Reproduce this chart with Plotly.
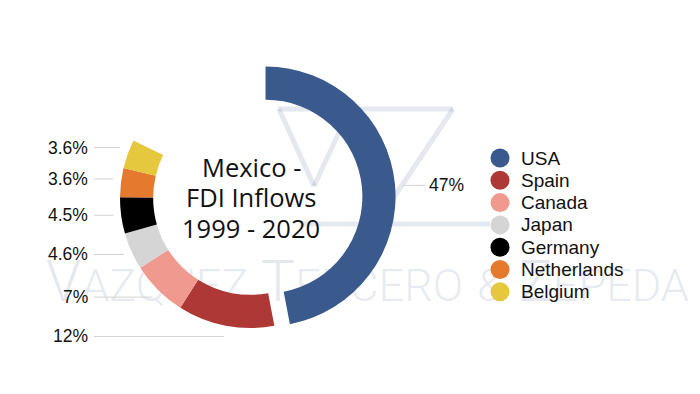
import math
import plotly.graph_objects as go

# ---- data ----
countries = ["USA", "Spain", "Canada", "Japan", "Germany", "Netherlands", "Belgium"]
shares = [47, 12, 7, 4.6, 4.5, 3.6, 3.6]
share_labels = ["47%", "12%", "7%", "4.6%", "4.5%", "3.6%", "3.6%"]
colors = ["#3A5A8E", "#AD3835", "#F0998E", "#D5D5D5", "#000000", "#E5792E", "#E6C83E"]
title_lines = ["Mexico -", "FDI Inflows", "1999 - 2020"]

# ---- layout constants (screen pixels; page body has an 8px margin) ----
W, H = 700, 394
OFF = 8
CX, CY, R = 250, 198, 130
PULL = 0.12
HOLE = 0.745
rest = 100 - sum(shares)
WM = "rgba(70,95,145,0.14)"

half = R * (1 + PULL)
dom_x = [(CX - OFF - half) / W, (CX - OFF + half) / W]
dom_y = [1 - (CY - OFF + half) / H, 1 - (CY - OFF - half) / H]

fig = go.Figure()

# watermark (drawn in cartesian layer, below the pie)
sm = "<span style='font-size:45px'>%s</span>"
wm_text = "V" + sm % "AZQUEZ" + " T" + sm % "ERCERO" + " " + sm % "&amp;" + " Z" + sm % "EPEDA"
fig.add_trace(go.Scatter(x=[46], y=[287], mode="text", text=[wm_text], textposition="middle right",
                         textfont=dict(family="Roboto", size=57, color=WM, weight=300),
                         hoverinfo="skip", showlegend=False))

shapes = []
# logo strokes
for (x0, y0, x1, y1) in [(278, 109, 453, 109), (279, 109, 314, 186), (314, 186, 350, 109),
                         (453, 109, 376, 224), (300, 224, 490, 224)]:
    shapes.append(dict(type="line", xref="x", yref="y", x0=x0, y0=y0, x1=x1, y1=y1,
                       line=dict(color=WM, width=5), layer="below"))

fig.add_trace(go.Pie(
    labels=countries + ["other"],
    values=shares + [rest],
    marker=dict(colors=colors + ["rgba(0,0,0,0)"], line=dict(width=0)),
    pull=[PULL] + [0] * len(shares),
    hole=HOLE, sort=False, direction="clockwise", rotation=0,
    textinfo="none", showlegend=False,
    domain=dict(x=dom_x, y=dom_y),
))

# legend made of circle markers
LEG_X, LEG_Y0, LEG_DY = 500, 158, 22.3
leg_y = [LEG_Y0 + LEG_DY * i for i in range(len(countries))]
fig.add_trace(go.Scatter(x=[LEG_X] * len(countries), y=leg_y, mode="markers",
                         marker=dict(size=19, color=colors), hoverinfo="skip", showlegend=False))

annotations = []
for name, y in zip(countries, leg_y):
    annotations.append(dict(x=LEG_X + 19, y=y, xref="x", yref="y", text=name, showarrow=False,
                            xanchor="left", yanchor="middle",
                            font=dict(family="Liberation Sans, Arial", size=19, color="#111111")))

# percentage labels with leader lines
RLINE = 138
LABEL_FONT = dict(family="Liberation Sans, Arial", size=17.5, color="#111111")
cum = 0
for i, (v, lab) in enumerate(zip(shares, share_labels)):
    mid = 2 * math.pi * (cum + v / 2) / 100
    cum += v
    ox = CX + (PULL * R * math.sin(mid) if i == 0 else 0)
    oy = CY - (PULL * R * math.cos(mid) if i == 0 else 0)
    lx_end = ox + RLINE * math.sin(mid)
    if math.sin(mid) >= 0:
        ly = oy - 140 * math.cos(mid) + 2
        shapes.append(dict(type="line", xref="x", yref="y", x0=lx_end, y0=ly, x1=lx_end + 22, y1=ly,
                           line=dict(color="#D2D2D2", width=1)))
        annotations.append(dict(x=lx_end + 24, y=ly, xref="x", yref="y", text=lab, showarrow=False,
                                xanchor="left", yanchor="middle", font=LABEL_FONT))
    else:
        ly = oy - 143 * math.cos(mid) - 2
        shapes.append(dict(type="line", xref="x", yref="y", x0=94, y0=ly, x1=lx_end, y1=ly,
                           line=dict(color="#D2D2D2", width=1)))
        annotations.append(dict(x=90, y=ly, xref="x", yref="y", text=lab, showarrow=False,
                                xanchor="right", yanchor="middle", font=LABEL_FONT))

# centre title, one annotation per line
TITLE_DY = 30.5
for k, line in enumerate(title_lines):
    annotations.append(dict(x=CX + 1, y=CY + (k - 1) * TITLE_DY - 1, xref="x", yref="y", text=line,
                            showarrow=False, xanchor="center", yanchor="middle",
                            font=dict(family="Open Sans", size=25.5, color="#111111")))

fig.update_layout(
    width=W, height=H, margin=dict(l=0, r=0, t=0, b=0),
    paper_bgcolor="white", plot_bgcolor="white",
    xaxis=dict(range=[OFF, W + OFF], visible=False, fixedrange=True, domain=[0, 1]),
    yaxis=dict(range=[H + OFF, OFF], visible=False, fixedrange=True, domain=[0, 1]),
    shapes=shapes, annotations=annotations, showlegend=False,
)

fig.write_html("out.html")
